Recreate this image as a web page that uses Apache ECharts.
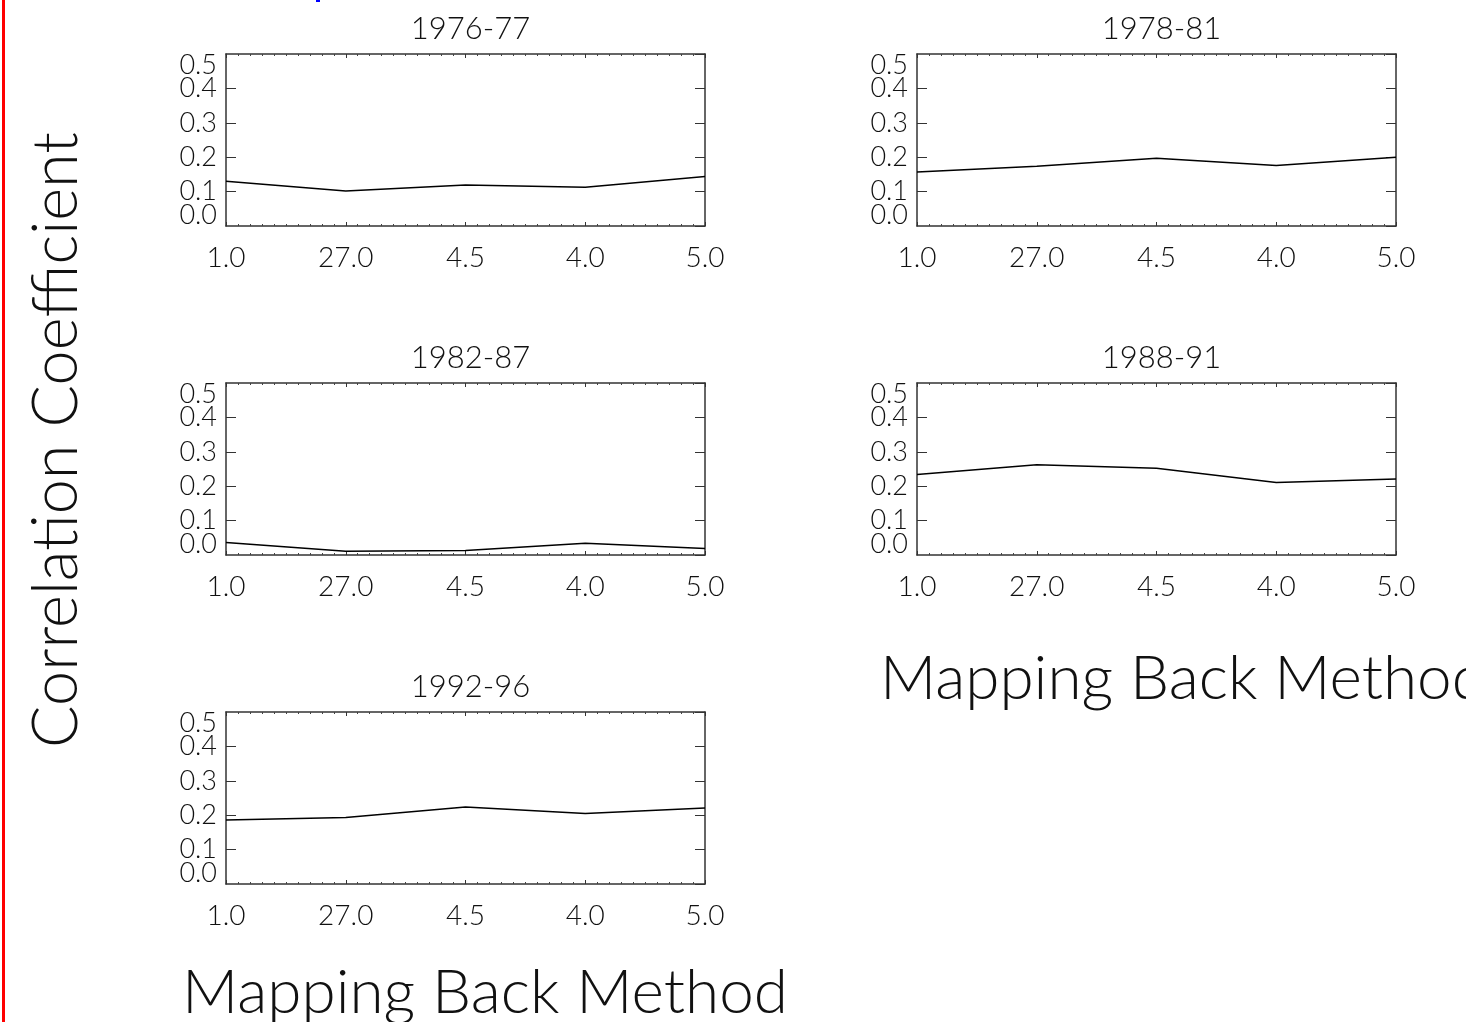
<!DOCTYPE html>
<html>
<head>
<meta charset="utf-8">
<script src="https://cdn.jsdelivr.net/npm/echarts@6/dist/echarts.min.js"></script>
<style>
html,body{margin:0;padding:0;background:#fff;}
#c{width:1466px;height:1022px;}
</style>
</head>
<body>
<div id="c"></div>
<script>
const categories = ['1.0', '27.0', '4.5', '4.0', '5.0'];
const periods = ['1976-77', '1978-81', '1982-87', '1988-91', '1992-96'];
const s1976 = [0.130, 0.102, 0.119, 0.113, 0.144];
const s1978 = [0.157, 0.174, 0.197, 0.176, 0.200];
const s1982 = [0.036, 0.011, 0.013, 0.034, 0.019];
const s1988 = [0.234, 0.262, 0.252, 0.211, 0.221];
const s1992 = [0.186, 0.193, 0.224, 0.205, 0.221];
const yTickLabels = ['0.0', '0.1', '0.2', '0.3', '0.4', '0.5'];
const yAxisTitle = 'Correlation Coefficient';
const xAxisTitle = 'Mapping Back Method';

const seriesValues = [s1976, s1978, s1982, s1988, s1992];

const FONT = 'Lato';
const W = 300;
const TXT = '#111';
const panels = [
  {left: 226, top: 54},
  {left: 917, top: 54},
  {left: 226, top: 383},
  {left: 917, top: 383},
  {left: 226, top: 712}
];
const PW = 479, PH = 172;
const AX = '#333';

const grids = [], xAxes = [], yAxes = [], series = [], titles = [];
panels.forEach((p, i) => {
  grids.push({left: p.left, top: p.top, width: PW, height: PH, show: false});
  titles.push({
    text: periods[i], left: p.left + PW / 2, top: p.top - 46, textAlign: 'center',
    textStyle: {fontFamily: FONT, fontWeight: W, fontSize: 31, color: TXT}
  });
  const xBase = {
    gridIndex: i, type: 'value', min: 0, max: categories.length - 1, interval: 1,
    axisLine: {show: true, onZero: false, lineStyle: {color: AX, width: 1.5}},
    axisTick: {show: true, inside: true, length: 4, lineStyle: {color: AX, width: 1}},
    minorTick: {show: true, splitNumber: 10, length: 2, lineStyle: {color: '#444', width: 1}},
    splitLine: {show: false}, minorSplitLine: {show: false}
  };
  xAxes.push(Object.assign({}, xBase, {
    position: 'bottom',
    axisLabel: {
      show: true, margin: 18, fontFamily: FONT, fontWeight: W, fontSize: 28, color: TXT,
      showMinLabel: true, showMaxLabel: true, hideOverlap: false,
      formatter: v => categories[Math.round(v)]
    }
  }));
  xAxes.push(Object.assign({}, xBase, {position: 'top', axisLabel: {show: false}}));
  const yBase = {
    gridIndex: i, type: 'value', min: 0, max: 0.5, interval: 0.1,
    axisLine: {show: true, onZero: false, lineStyle: {color: AX, width: 1.5}},
    axisTick: {show: true, inside: true, length: 10, lineStyle: {color: AX, width: 1}},
    splitLine: {show: false}
  };
  const labelBase = {
    show: true, margin: 9, fontFamily: FONT, fontWeight: W, fontSize: 27, color: TXT, hideOverlap: false
  };
  // inner tick labels (0.1 - 0.4)
  yAxes.push(Object.assign({}, yBase, {
    position: 'left',
    axisLabel: Object.assign({}, labelBase, {
      showMinLabel: false, showMaxLabel: false,
      formatter: v => yTickLabels[Math.round(v * 10)]
    })
  }));
  yAxes.push(Object.assign({}, yBase, {position: 'right', axisLabel: {show: false}}));
  // end tick labels (0.0 and 0.5), shifted inward like the original
  yAxes.push(Object.assign({}, yBase, {
    position: 'left',
    axisLine: {show: false, onZero: false}, axisTick: {show: false},
    axisLabel: Object.assign({}, labelBase, {
      showMinLabel: true, showMaxLabel: true, lineHeight: 22,
      verticalAlignMinLabel: 'bottom', verticalAlignMaxLabel: 'top',
      formatter: v => {
        const k = Math.round(v * 10);
        return (k === 0 || k === yTickLabels.length - 1) ? yTickLabels[k] : '';
      }
    })
  }));
  series.push({
    type: 'line', xAxisIndex: i * 2, yAxisIndex: i * 3,
    data: seriesValues[i].map((v, k) => [k, v]),
    showSymbol: false, symbol: 'none', silent: true,
    lineStyle: {color: '#000', width: 1.5}
  });
});

const chart = echarts.init(document.getElementById('c'));
chart.setOption({
  animation: false,
  backgroundColor: '#fff',
  title: titles,
  grid: grids,
  xAxis: xAxes,
  yAxis: yAxes,
  series: series,
  graphic: [
    {type: 'rect', shape: {x: 2, y: 0, width: 3, height: 1022}, style: {fill: '#ff0000'}},
    {type: 'rect', shape: {x: 316, y: 0, width: 4, height: 2}, style: {fill: '#0000ff'}},
    {type: 'text', x: 57, y: 440, rotation: Math.PI / 2,
      style: {text: yAxisTitle, fontFamily: FONT, fontWeight: W, fontSize: 63, fill: TXT, align: 'center', verticalAlign: 'middle'}},
    {type: 'text', x: 485, y: 993,
      style: {text: xAxisTitle, fontFamily: FONT, fontWeight: W, fontSize: 62, fill: TXT, align: 'center', verticalAlign: 'middle'}},
    {type: 'text', x: 880, y: 679,
      style: {text: xAxisTitle, fontFamily: FONT, fontWeight: W, fontSize: 62, fill: TXT, align: 'left', verticalAlign: 'middle'}}
  ]
});
</script>
</body>
</html>
